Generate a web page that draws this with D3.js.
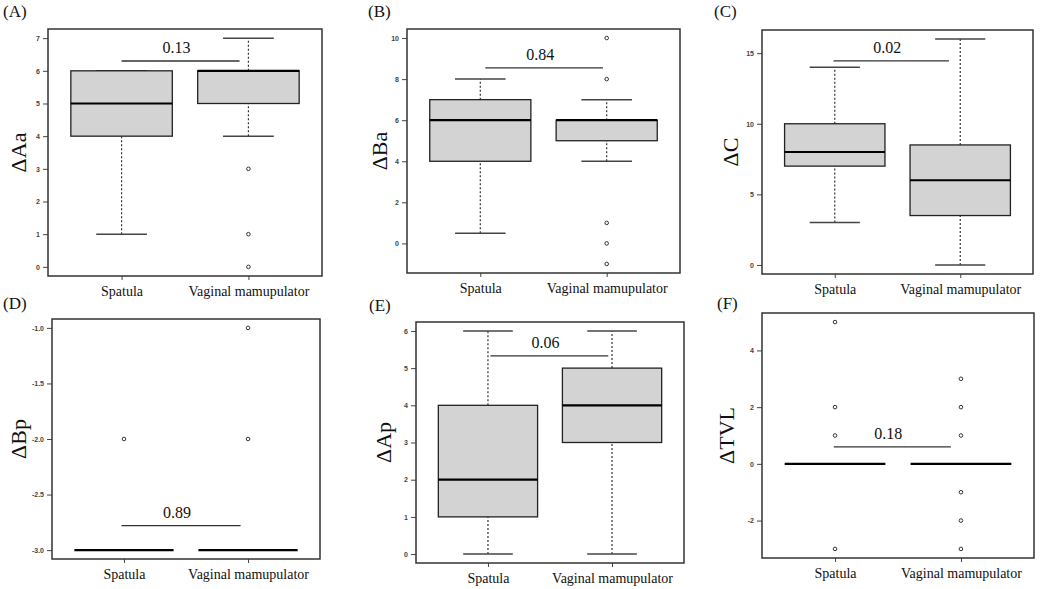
<!DOCTYPE html>
<html>
<head>
<meta charset="utf-8">
<script src="https://cdn.jsdelivr.net/npm/d3@7"></script>
<style>
  body { margin: 0; background: #fff; }
  svg { display: block; }
</style>
</head>
<body>
<script>
// six panels, two groups each
var panelLabels = ["(A)", "(B)", "(C)", "(D)", "(E)", "(F)"];
var axisTitles = ["\u0394Aa", "\u0394Ba", "\u0394C", "\u0394Bp", "\u0394Ap", "\u0394TVL"];
var groups = ["Spatula", "Vaginal mamupulator"];

// [lower whisker, Q1, median, Q3, upper whisker]
var spatulaStats = [[1, 4, 5, 6, 6], [0.5, 4, 6, 7, 8], [3, 7, 8, 10, 14],
                    [-3, -3, -3, -3, -3], [0, 1, 2, 4, 6], [0, 0, 0, 0, 0]];
var manipStats = [[4, 5, 6, 6, 7], [4, 5, 6, 6, 7], [0, 3.5, 6, 8.5, 16],
                  [-3, -3, -3, -3, -3], [0, 3, 4, 5, 6], [0, 0, 0, 0, 0]];
var spatulaOutliers = [[], [], [], [-2], [], [5, 2, 1, -3]];
var manipOutliers = [[3, 1, 0], [10, 8, 1, 0, -1], [], [-1, -2], [], [3, 2, 1, -1, -2, -3]];

var pValues = ["0.13", "0.84", "0.02", "0.89", "0.06", "0.18"];
var pLineLevel = [6.3, 8.55, 14.45, -2.78, 5.33, 0.6];
var pLineFrom = [1.0, 1.04, 0.99, 0.98, 1.02, 0.99];
var pLineTo = [1.93, 1.97, 1.91, 1.94, 1.97, 1.92];

var yTicks = [[0, 1, 2, 3, 4, 5, 6, 7], [0, 2, 4, 6, 8, 10], [0, 5, 10, 15],
              [-3, -2.5, -2, -1.5, -1], [0, 1, 2, 3, 4, 5, 6], [-2, 0, 2, 4]];
var yTickFormat = ["d", "d", "d", ".1f", "d", "d"];

// plot frames on the page (left, right, top, bottom)
var frames = [
  {l: 48, r: 322, t: 29, b: 276},
  {l: 407, r: 680, t: 29, b: 273},
  {l: 762, r: 1033, t: 30, b: 274},
  {l: 52, r: 320, t: 319, b: 559},
  {l: 416, r: 684, t: 322, b: 563},
  {l: 762, r: 1034, t: 313, b: 558}
];
var labelPos = [[3, 17], [368, 17], [714, 17], [3, 309], [369, 311], [717, 309]];
var titleX = [18, 379, 730, 18, 383, 726];

var W = 1040, H = 589;
var serif = "'Liberation Serif', 'Times New Roman', serif";

var svg = d3.select("body").append("svg")
  .attr("width", W)
  .attr("height", H);

// R style: 4% padding around the data range
function padded(lo, hi) {
  var d = (hi - lo) * 0.04;
  return [lo - d, hi + d];
}

panelLabels.forEach(function(lab, i) {
  var f = frames[i];
  var boxes = [
    {name: groups[0], s: spatulaStats[i], out: spatulaOutliers[i]},
    {name: groups[1], s: manipStats[i], out: manipOutliers[i]}
  ];
  var all = [];
  boxes.forEach(function(b) { all = all.concat(b.s, b.out); });

  var x = d3.scaleLinear().domain(padded(0.5, 2.5)).range([f.l, f.r]);
  var y = d3.scaleLinear().domain(padded(d3.min(all), d3.max(all))).range([f.b, f.t]);

  var g = svg.append("g");

  // y axis (plain hyphen for negatives, like R)
  var fmt = d3.format(yTickFormat[i]);
  var yAxis = d3.axisLeft(y).tickValues(yTicks[i]).tickSize(5).tickPadding(3)
    .tickFormat(function(d) { return fmt(d).replace("\u2212", "-"); });
  var ya = g.append("g").attr("transform", "translate(" + f.l + ",0)").call(yAxis);
  ya.select(".domain").remove();
  ya.selectAll("line").attr("stroke", "#444");
  ya.selectAll("text")
    .attr("font-family", "'Liberation Sans', Arial, sans-serif")
    .attr("font-size", "7px")
    .attr("font-weight", "bold")
    .attr("fill", "#444");

  // x axis
  var xAxis = d3.axisBottom(x).tickValues([1, 2]).tickSize(4).tickPadding(6)
    .tickFormat(function(d) { return groups[d - 1]; });
  var xa = g.append("g").attr("transform", "translate(0," + f.b + ")").call(xAxis);
  xa.select(".domain").remove();
  xa.selectAll("line").attr("stroke", "#444");
  xa.selectAll("text")
    .attr("font-family", serif)
    .attr("font-size", "14px")
    .attr("fill", "#111");

  // boxes
  var bw = 0.4, cw = 0.2;
  boxes.forEach(function(b, j) {
    var c = j + 1;
    var s = b.s;
    // whiskers (dotted)
    g.append("line")
      .attr("x1", x(c)).attr("x2", x(c))
      .attr("y1", y(s[0])).attr("y2", y(s[1]))
      .attr("stroke", "#333").attr("stroke-width", 1.2)
      .attr("stroke-dasharray", "2,2");
    g.append("line")
      .attr("x1", x(c)).attr("x2", x(c))
      .attr("y1", y(s[3])).attr("y2", y(s[4]))
      .attr("stroke", "#333").attr("stroke-width", 1.2)
      .attr("stroke-dasharray", "2,2");
    // caps
    [s[0], s[4]].forEach(function(v) {
      g.append("line")
        .attr("x1", x(c - cw)).attr("x2", x(c + cw))
        .attr("y1", y(v)).attr("y2", y(v))
        .attr("stroke", "#444").attr("stroke-width", 1.5);
    });
    // box
    g.append("rect")
      .attr("x", x(c - bw))
      .attr("y", y(s[3]))
      .attr("width", x(c + bw) - x(c - bw))
      .attr("height", y(s[1]) - y(s[3]))
      .attr("fill", "#d3d3d3")
      .attr("stroke", "#222")
      .attr("stroke-width", 1.3);
    // median
    g.append("line")
      .attr("x1", x(c - bw)).attr("x2", x(c + bw))
      .attr("y1", y(s[2])).attr("y2", y(s[2]))
      .attr("stroke", "#000").attr("stroke-width", 2.2);
    // outliers
    g.selectAll(null)
      .data(b.out)
      .enter()
      .append("circle")
      .attr("cx", x(c))
      .attr("cy", function(d) { return y(d); })
      .attr("r", 1.8)
      .attr("fill", "none")
      .attr("stroke", "#333")
      .attr("stroke-width", 1);
  });

  // frame
  g.append("rect")
    .attr("x", f.l).attr("y", f.t)
    .attr("width", f.r - f.l).attr("height", f.b - f.t)
    .attr("fill", "none")
    .attr("stroke", "#333")
    .attr("stroke-width", 1.5);

  // p-value bar
  var py = y(pLineLevel[i]);
  g.append("line")
    .attr("x1", x(pLineFrom[i])).attr("x2", x(pLineTo[i]))
    .attr("y1", py).attr("y2", py)
    .attr("stroke", "#333").attr("stroke-width", 1.3);
  g.append("text")
    .attr("x", x((pLineFrom[i] + pLineTo[i]) / 2) - 4)
    .attr("y", py - 8)
    .attr("text-anchor", "middle")
    .attr("font-family", serif)
    .attr("font-size", "16px")
    .attr("fill", "#111")
    .text(pValues[i]);

  // y title
  var cy = (f.t + f.b) / 2;
  g.append("text")
    .attr("transform", "translate(" + titleX[i] + "," + cy + ") rotate(-90)")
    .attr("text-anchor", "middle")
    .attr("dy", "0.35em")
    .attr("font-family", serif)
    .attr("font-size", "22px")
    .attr("fill", "#111")
    .text(axisTitles[i]);

  // panel label
  svg.append("text")
    .attr("x", labelPos[i][0]).attr("y", labelPos[i][1])
    .attr("font-family", serif)
    .attr("font-size", "17px")
    .attr("fill", "#111")
    .text(lab);
});
</script>
</body>
</html>
